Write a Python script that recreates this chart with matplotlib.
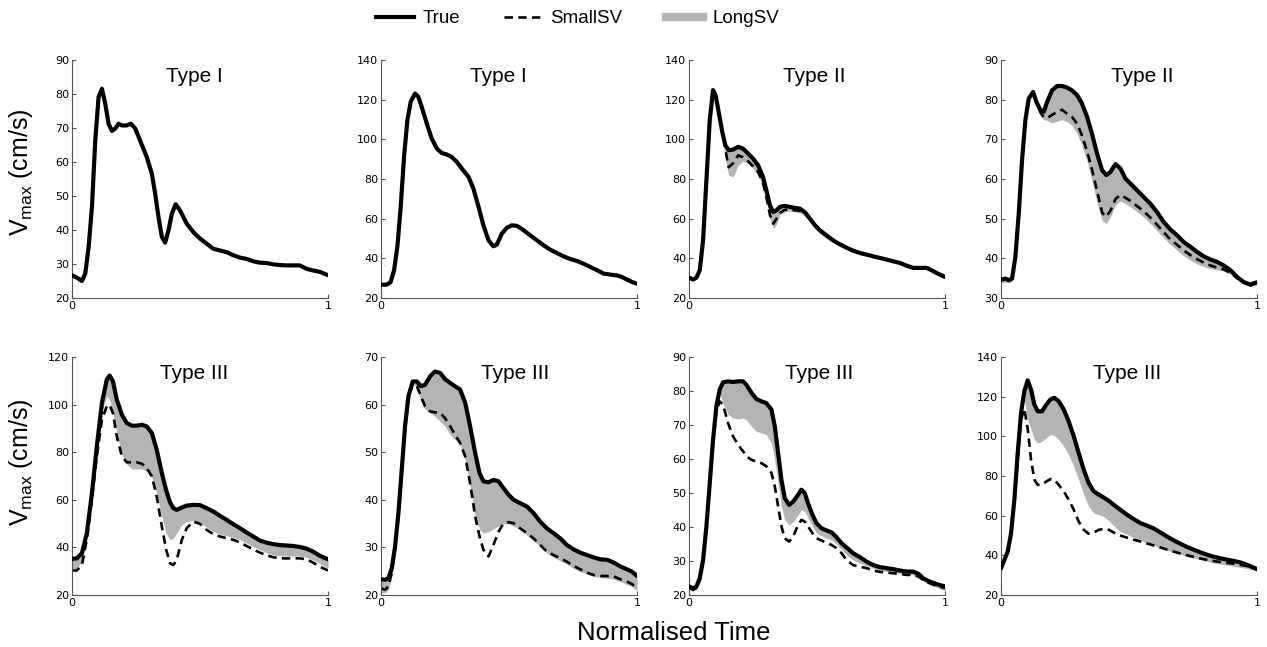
"""Vmax waveforms: true signal vs SmallSV / LongSV reconstructions, 2x4 panels."""

import matplotlib

matplotlib.use("Agg")
import matplotlib.pyplot as plt
from matplotlib.lines import Line2D

plt.rcParams["font.family"] = ["Liberation Sans", "DejaVu Sans"]
plt.rcParams["mathtext.fontset"] = "custom"
plt.rcParams["mathtext.rm"] = "Liberation Sans"

# ---- data (normalised time, cm/s) -------------------------------------------
x1 = [0, 0.019, 0.039, 0.052, 0.065, 0.078, 0.091, 0.104, 0.117, 0.130, 0.143,
      0.156, 0.169, 0.182, 0.195, 0.214, 0.230, 0.247, 0.266, 0.292, 0.312,
      0.325, 0.338, 0.351, 0.364, 0.377, 0.390, 0.405, 0.422, 0.448, 0.474,
      0.5, 0.526, 0.552, 0.578, 0.604, 0.630, 0.656, 0.682, 0.708, 0.734,
      0.760, 0.786, 0.812, 0.838, 0.864, 0.890, 0.916, 0.942, 0.968, 1.0]
true1 = [26.7, 26.0, 25.0, 27.2, 35.0, 46.8, 66.4, 79.2, 81.6, 77.2, 71.3,
         69.2, 69.9, 71.3, 70.8, 70.8, 71.3, 69.9, 66.4, 61.5, 56.6, 50.7,
         43.8, 38.0, 36.3, 39.9, 44.8, 47.6, 45.8, 41.9, 39.4, 37.5, 36.0,
         34.5, 34.0, 33.5, 32.6, 31.9, 31.5, 30.8, 30.4, 30.3, 29.9, 29.7,
         29.6, 29.6, 29.6, 28.6, 28.1, 27.7, 26.7]

x2 = [0, 0.022, 0.038, 0.051, 0.064, 0.077, 0.090, 0.103, 0.116, 0.133,
      0.146, 0.159, 0.179, 0.198, 0.218, 0.237, 0.257, 0.276, 0.296, 0.316,
      0.342, 0.361, 0.381, 0.400, 0.420, 0.439, 0.452, 0.472, 0.492, 0.511,
      0.531, 0.557, 0.583, 0.609, 0.635, 0.661, 0.687, 0.713, 0.739, 0.765,
      0.791, 0.817, 0.844, 0.870, 0.896, 0.922, 0.941, 0.961, 0.980, 1.0]
true2 = [26.7, 26.7, 28.1, 34.0, 45.8, 66.0, 91.2, 109.7, 119.0, 123.2,
         121.5, 116.5, 108.0, 100.5, 95.4, 93.2, 92.4, 91.2, 88.7, 85.3,
         81.1, 75.2, 66.0, 56.7, 49.1, 46.1, 46.9, 52.5, 55.5, 56.7,
         56.4, 54.2, 51.6, 49.1, 46.6, 44.4, 42.7, 41.0, 39.7, 38.7,
         37.3, 35.7, 34.0, 32.3, 31.8, 31.4, 30.6, 29.3, 28.1, 27.2]

x3 = [0, 0.016, 0.029, 0.042, 0.055, 0.068, 0.081, 0.094, 0.104, 0.117,
      0.130, 0.142, 0.155, 0.172, 0.192, 0.211, 0.231, 0.250, 0.270, 0.289,
      0.302, 0.316, 0.329, 0.342, 0.355, 0.374, 0.394, 0.413, 0.433, 0.452,
      0.472, 0.492, 0.511, 0.537, 0.563, 0.589, 0.615, 0.641, 0.668, 0.694,
      0.720, 0.746, 0.772, 0.798, 0.824, 0.850, 0.876, 0.902, 0.928, 0.948,
      0.967, 1.0]
true3 = [30.3, 29.3, 30.3, 34.0, 49.1, 79.4, 109.7, 124.9, 122.4, 113.1,
         103.8, 97.1, 94.6, 94.9, 96.3, 95.4, 92.9, 90.4, 87.0, 81.1,
         74.4, 66.8, 63.4, 64.3, 66.0, 66.5, 66.0, 65.5, 65.1, 63.4,
         60.1, 56.7, 54.2, 51.6, 49.1, 47.1, 45.4, 43.9, 42.7, 41.9,
         41.0, 40.2, 39.4, 38.5, 37.7, 36.3, 35.2, 35.2, 35.2, 34.0,
         32.6, 30.6]
small3 = [30.3, 29.3, 30.3, 34.0, 49.1, 79.4, 109.7, 124.9, 122.4, 113.1,
          103.8, 95.0, 86.0, 88.0, 92.0, 91.0, 89.0, 86.5, 83.5, 78.0,
          71.0, 62.0, 57.5, 60.0, 63.0, 64.5, 64.5, 64.3, 64.0, 63.0,
          60.0, 56.5, 54.0, 51.4, 48.9, 46.9, 45.2, 43.7, 42.5, 41.7,
          40.8, 40.0, 39.2, 38.3, 37.5, 36.1, 35.0, 35.0, 35.0, 33.8,
          32.4, 30.4]
long3 = [30.3, 29.3, 30.3, 34.0, 49.1, 79.4, 109.7, 124.9, 122.4, 113.1,
         103.0, 90.0, 82.0, 81.0, 87.0, 89.0, 88.0, 85.5, 82.5, 76.0,
         69.0, 60.0, 55.0, 57.0, 62.0, 63.5, 64.0, 63.5, 63.0, 61.5,
         58.5, 55.0, 52.5, 50.0, 48.0, 46.3, 45.0, 43.4, 42.2, 41.4,
         40.5, 39.7, 38.9, 38.0, 37.2, 35.8, 34.7, 34.7, 34.7, 33.5,
         32.1, 30.1]

x4 = [0, 0.017, 0.030, 0.043, 0.056, 0.069, 0.082, 0.095, 0.108, 0.125,
      0.138, 0.154, 0.167, 0.180, 0.199, 0.219, 0.238, 0.258, 0.277, 0.297,
      0.316, 0.336, 0.355, 0.375, 0.395, 0.411, 0.427, 0.447, 0.466, 0.486,
      0.505, 0.531, 0.557, 0.583, 0.609, 0.635, 0.661, 0.688, 0.714, 0.740,
      0.766, 0.792, 0.818, 0.844, 0.870, 0.896, 0.922, 0.948, 0.974, 1.0]
true4 = [34.6, 34.9, 34.5, 34.9, 40.4, 51.3, 64.8, 74.9, 80.3, 82.0,
         79.5, 77.4, 77.0, 79.5, 82.4, 83.5, 83.5, 83.1, 82.4, 81.2,
         79.1, 75.7, 71.5, 66.4, 62.2, 61.0, 61.8, 63.8, 62.7, 60.1,
         58.9, 57.2, 55.5, 53.8, 51.7, 49.2, 47.3, 45.8, 44.1, 42.9,
         41.6, 40.5, 39.7, 39.1, 38.2, 37.0, 35.3, 34.0, 33.4, 34.0]
small4 = [34.6, 34.9, 34.5, 34.9, 40.4, 51.3, 64.8, 74.9, 80.3, 82.0,
          79.5, 76.8, 75.6, 75.4, 76.2, 77.0, 77.5, 76.5, 75.7, 74.0,
          71.0, 67.0, 62.5, 57.0, 51.5, 50.5, 52.0, 55.0, 56.0, 55.3,
          54.5, 53.2, 51.9, 50.3, 48.5, 46.6, 44.8, 43.4, 42.0, 40.8,
          39.8, 38.9, 38.2, 37.7, 37.2, 36.3, 35.0, 34.0, 33.2, 33.8]
long4 = [33.8, 34.0, 33.8, 34.2, 40.0, 51.0, 64.5, 74.5, 80.0, 81.5,
         78.5, 76.0, 75.0, 74.8, 74.2, 74.6, 75.0, 74.5, 73.5, 71.5,
         68.5, 64.5, 59.5, 54.0, 49.5, 48.8, 50.5, 53.5, 54.5, 53.8,
         53.0, 51.8, 50.4, 48.8, 47.0, 45.2, 43.5, 42.0, 40.6, 39.5,
         38.6, 37.9, 37.4, 37.1, 36.8, 36.0, 34.7, 33.5, 33.0, 33.3]

x5 = [0, 0.019, 0.039, 0.058, 0.078, 0.097, 0.117, 0.136, 0.147, 0.160,
      0.175, 0.195, 0.214, 0.234, 0.253, 0.273, 0.292, 0.312, 0.331, 0.351,
      0.368, 0.383, 0.396, 0.409, 0.429, 0.448, 0.474, 0.5, 0.526, 0.552,
      0.578, 0.604, 0.630, 0.656, 0.682, 0.708, 0.734, 0.760, 0.786, 0.812,
      0.838, 0.864, 0.890, 0.916, 0.942, 0.968, 1.0]
true5 = [35.2, 35.4, 37.6, 46.0, 62.8, 82.5, 100.8, 110.6, 112.3, 109.9,
         102.2, 95.8, 92.3, 91.2, 91.2, 91.6, 90.9, 88.1, 81.1, 71.3,
         64.0, 59.0, 56.5, 55.8, 56.8, 57.6, 57.9, 57.8, 56.5, 55.1,
         53.3, 51.6, 49.8, 48.1, 46.3, 44.6, 42.9, 42.0, 41.4, 41.0,
         40.8, 40.6, 40.2, 39.5, 38.2, 36.5, 35.0]
small5 = [30.3, 30.3, 32.6, 43.2, 60.0, 78.3, 93.7, 99.4, 100.0, 96.5,
          86.7, 78.3, 75.8, 75.8, 75.8, 75.2, 73.4, 69.9, 61.4, 48.8,
          39.0, 33.3, 32.6, 34.7, 43.2, 48.1, 50.9, 49.9, 47.4, 45.6,
          44.6, 43.9, 43.2, 42.1, 40.6, 39.2, 37.8, 36.7, 35.9, 35.4,
          35.4, 35.4, 35.4, 35.0, 33.6, 31.9, 30.3]
long5 = [31.0, 31.2, 34.0, 44.6, 61.4, 80.4, 97.2, 103.6, 102.0, 97.0,
         88.0, 79.0, 75.0, 73.0, 73.0, 73.0, 72.0, 69.5, 62.8, 53.0,
         46.0, 43.2, 43.9, 46.0, 49.5, 50.9, 51.3, 50.5, 48.5, 46.7,
         45.6, 44.9, 44.2, 43.2, 41.8, 40.4, 39.0, 37.8, 36.9, 36.4,
         36.4, 36.4, 36.4, 35.9, 34.7, 33.3, 31.2]

x6 = [0, 0.016, 0.029, 0.042, 0.055, 0.068, 0.081, 0.094, 0.107, 0.124,
      0.140, 0.156, 0.172, 0.192, 0.211, 0.231, 0.250, 0.270, 0.289, 0.309,
      0.329, 0.348, 0.368, 0.385, 0.400, 0.420, 0.439, 0.459, 0.478, 0.498,
      0.518, 0.544, 0.570, 0.596, 0.622, 0.648, 0.674, 0.700, 0.726, 0.752,
      0.778, 0.804, 0.831, 0.857, 0.883, 0.909, 0.935, 0.961, 0.980, 1.0]
true6 = [23.3, 23.2, 23.5, 25.6, 30.2, 37.2, 46.3, 55.5, 61.8, 64.9,
         64.9, 63.9, 64.2, 66.0, 67.0, 66.7, 65.4, 64.6, 63.9, 63.2,
         60.4, 55.5, 49.8, 45.6, 43.9, 43.7, 44.2, 43.9, 42.5, 41.1,
         40.0, 39.3, 38.6, 37.2, 35.4, 34.0, 33.0, 31.9, 30.5, 29.6,
         28.9, 28.4, 27.9, 27.5, 27.4, 26.8, 26.0, 25.4, 24.9, 24.0]
small6 = [21.4, 21.1, 21.8, 24.6, 29.5, 36.5, 45.6, 54.8, 61.1, 64.6,
          63.9, 61.8, 59.7, 58.6, 58.4, 58.3, 57.2, 55.5, 53.7, 52.0,
          49.1, 43.5, 36.5, 32.3, 29.5, 28.1, 30.5, 33.3, 35.0, 35.3,
          35.1, 34.0, 33.0, 31.9, 30.5, 29.1, 28.4, 27.7, 27.0, 26.1,
          25.4, 24.7, 24.2, 24.0, 24.0, 23.9, 23.3, 22.8, 22.3, 21.4]
long6 = [20.5, 20.5, 21.1, 24.2, 29.1, 36.2, 45.3, 54.4, 60.7, 64.5,
         63.6, 60.7, 59.1, 58.3, 57.6, 56.5, 55.5, 53.7, 52.7, 51.6,
         48.4, 42.8, 36.5, 33.7, 33.0, 33.3, 33.9, 34.5, 34.9, 35.0,
         34.5, 33.7, 32.6, 31.4, 30.2, 28.8, 27.9, 27.2, 26.5, 25.6,
         24.9, 24.4, 23.9, 23.7, 23.5, 23.3, 22.8, 22.2, 21.8, 20.9]

x7 = [0, 0.016, 0.029, 0.042, 0.055, 0.068, 0.081, 0.094, 0.107, 0.120,
      0.133, 0.153, 0.172, 0.192, 0.211, 0.224, 0.244, 0.263, 0.283, 0.302,
      0.322, 0.335, 0.348, 0.361, 0.374, 0.391, 0.407, 0.426, 0.439, 0.452,
      0.465, 0.482, 0.498, 0.518, 0.537, 0.557, 0.576, 0.596, 0.615, 0.641,
      0.668, 0.694, 0.720, 0.746, 0.772, 0.798, 0.824, 0.850, 0.876, 0.896,
      0.915, 0.941, 0.967, 1.0]
true7 = [22.5, 22.0, 22.5, 24.9, 30.3, 40.2, 52.9, 65.7, 75.6, 80.5,
         82.6, 82.9, 82.7, 82.9, 82.9, 81.9, 79.5, 77.7, 77.0, 76.5,
         74.6, 69.7, 61.8, 53.9, 48.5, 46.5, 47.5, 49.5, 51.0, 50.0,
         47.0, 43.6, 41.1, 39.6, 39.0, 38.4, 37.0, 35.2, 34.0, 32.3,
         31.1, 29.8, 28.8, 28.2, 27.9, 27.6, 27.2, 26.9, 26.9, 26.2,
         24.9, 23.9, 23.2, 22.5]
small7 = [22.0, 21.5, 22.0, 24.4, 29.8, 39.7, 52.0, 64.7, 74.1, 77.0,
          76.0, 70.5, 66.7, 64.2, 62.3, 60.8, 59.8, 59.3, 58.8, 57.9,
          55.9, 52.0, 46.1, 40.2, 36.7, 35.7, 37.2, 40.6, 42.1, 41.6,
          40.2, 38.2, 36.7, 36.0, 35.4, 34.7, 33.8, 32.3, 30.3, 28.8,
          28.3, 27.9, 27.2, 26.8, 26.6, 26.4, 26.2, 25.9, 25.9, 25.4,
          24.4, 23.4, 22.7, 22.0]
long7 = [22.0, 21.5, 22.0, 24.6, 30.0, 40.0, 52.4, 65.2, 75.1, 79.5,
         76.4, 73.1, 72.1, 71.8, 72.1, 71.6, 69.6, 68.2, 67.7, 67.2,
         64.7, 59.8, 52.9, 46.1, 42.1, 40.6, 41.6, 43.6, 45.1, 44.6,
         42.6, 40.2, 38.2, 37.4, 36.7, 36.2, 35.0, 33.5, 31.8, 30.3,
         29.3, 28.6, 27.9, 27.2, 26.9, 26.6, 26.4, 26.1, 25.9, 25.4,
         24.2, 23.0, 22.2, 21.3]

x8 = [0, 0.013, 0.026, 0.039, 0.052, 0.065, 0.078, 0.091, 0.104, 0.117,
      0.130, 0.143, 0.160, 0.177, 0.193, 0.208, 0.225, 0.245, 0.264, 0.284,
      0.303, 0.323, 0.342, 0.362, 0.382, 0.401, 0.421, 0.440, 0.466, 0.492,
      0.518, 0.544, 0.570, 0.596, 0.622, 0.648, 0.674, 0.701, 0.727, 0.753,
      0.779, 0.805, 0.831, 0.857, 0.883, 0.909, 0.935, 0.961, 1.0]
true8 = [33.5, 37.7, 41.9, 51.2, 68.1, 91.6, 111.9, 122.9, 128.3, 123.7,
         116.1, 112.7, 112.7, 116.1, 118.7, 119.5, 117.8, 113.6, 107.7, 100.1,
         91.7, 83.2, 76.5, 72.3, 70.6, 69.2, 67.5, 65.5, 63.0, 60.5,
         58.3, 56.3, 55.0, 53.6, 51.6, 49.5, 47.6, 45.8, 44.2, 42.8,
         41.5, 40.3, 39.3, 38.5, 37.8, 37.2, 36.4, 35.2, 33.0]
small8 = [33.5, 37.7, 41.9, 51.2, 67.2, 88.3, 108.5, 114.0, 104.0, 88.3,
          78.2, 75.6, 75.6, 77.3, 78.5, 78.2, 75.6, 72.3, 68.1, 63.0,
          57.1, 52.9, 50.9, 51.5, 52.9, 53.4, 52.9, 51.5, 50.0, 48.9,
          47.9, 47.0, 46.0, 45.0, 44.0, 42.9, 41.9, 40.9, 40.0, 39.2,
          38.4, 37.7, 37.1, 36.6, 36.2, 35.8, 35.2, 34.6, 33.0]
long8 = [33.0, 37.2, 41.4, 50.7, 67.2, 90.0, 110.2, 118.7, 108.5, 103.5,
         98.5, 96.7, 97.6, 99.3, 101.0, 100.5, 98.5, 95.0, 90.8, 84.9,
         78.2, 70.6, 64.7, 61.3, 60.5, 59.6, 57.5, 55.0, 52.0, 50.5,
         49.0, 47.6, 46.3, 45.0, 43.8, 42.6, 41.5, 40.5, 39.6, 38.7,
         37.8, 37.0, 36.2, 35.6, 35.0, 34.5, 33.9, 33.3, 32.3]

titles = ["Type I", "Type I", "Type II", "Type II",
          "Type III", "Type III", "Type III", "Type III"]
y_ticks = [[20, 30, 40, 50, 60, 70, 80, 90],
           [20, 40, 60, 80, 100, 120, 140],
           [20, 40, 60, 80, 100, 120, 140],
           [30, 40, 50, 60, 70, 80, 90],
           [20, 40, 60, 80, 100, 120],
           [20, 30, 40, 50, 60, 70],
           [20, 30, 40, 50, 60, 70, 80, 90],
           [20, 40, 60, 80, 100, 120, 140]]

# (x, true, smallSV, lower edge of LongSV band)
panels = [
    (x1, true1, None, None),
    (x2, true2, None, None),
    (x3, true3, small3, long3),
    (x4, true4, small4, long4),
    (x5, true5, small5, long5),
    (x6, true6, small6, long6),
    (x7, true7, small7, long7),
    (x8, true8, small8, long8),
]

# ---- layout ------------------------------------------------------------------
GREY = "#b4b4b4"
SPINE = "#555555"
DASHES = (3.2, 2.0)
col_left = [0.0568, 0.3007, 0.5438, 0.7901]
row_bottom = [0.5394, 0.0804]
AX_W, AX_H = 0.2021, 0.3675
title_x = [0.477, 0.458, 0.488, 0.55, 0.477, 0.523, 0.507, 0.493]

fig = plt.figure(figsize=(12.67, 6.47), dpi=100)

for i, (xs, true, small, long_lo) in enumerate(panels):
    row, col = divmod(i, 4)
    ax = fig.add_axes([col_left[col], row_bottom[row], AX_W, AX_H])

    if long_lo is not None:
        ax.fill_between(xs, long_lo, true, color=GREY, lw=0, zorder=1)
        ax.plot(xs, small, color="black", lw=1.9, dashes=DASHES, zorder=2)
    ax.plot(xs, true, color="black", lw=3.0, solid_joinstyle="round",
            solid_capstyle="round", zorder=3)

    ax.set_xlim(0, 1)
    ax.set_ylim(y_ticks[i][0], y_ticks[i][-1])
    ax.set_xticks([0, 1])
    ax.set_xticklabels(["0", "1"])
    ax.set_yticks(y_ticks[i])
    ax.tick_params(direction="in", length=3, width=0.8, color=SPINE,
                   labelsize=8, pad=2, labelfontfamily="DejaVu Sans")
    for side in ("top", "right"):
        ax.spines[side].set_visible(False)
    for side in ("left", "bottom"):
        ax.spines[side].set_color(SPINE)
        ax.spines[side].set_linewidth(0.8)

    ax.text(title_x[i], 0.908, titles[i], transform=ax.transAxes,
            ha="center", va="baseline", fontsize=15)

    if col == 0:
        ax.set_ylabel(r"V$_{\mathrm{max}}$ (cm/s)", fontsize=18)
        ax.yaxis.set_label_coords(-0.145, 0.53 if row == 0 else 0.56)

fig.text(0.532, 0.021, "Normalised Time", ha="center", va="center",
         fontsize=18.5)

handles = [
    Line2D([], [], color="black", lw=3.0),
    Line2D([], [], color="black", lw=1.9, dashes=DASHES),
    Line2D([], [], color=GREY, lw=6.0),
]
fig.legend(handles, ["True", "SmallSV", "LongSV"], loc="center",
           bbox_to_anchor=(0.456, 0.971), ncol=3, frameon=False,
           fontsize=13.5, handlelength=2.0, handletextpad=0.5,
           columnspacing=2.3)

fig.savefig("out.png", dpi=100)
